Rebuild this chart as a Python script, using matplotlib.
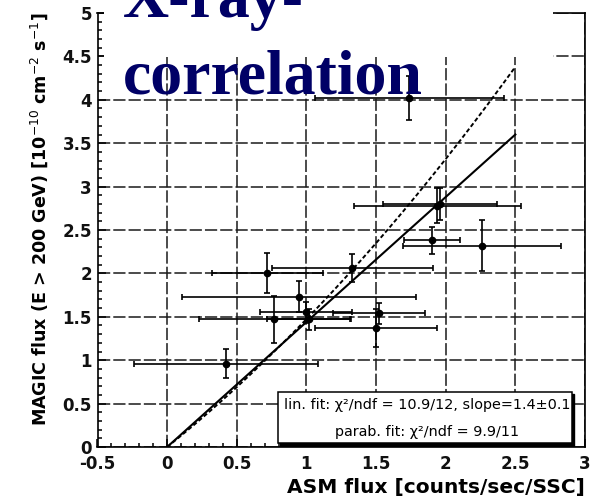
import matplotlib
matplotlib.use("Agg")
import matplotlib.pyplot as plt
import matplotlib.ticker as mticker
from matplotlib.patches import Rectangle
import numpy as np

### measured points: ASM flux vs MAGIC flux
asm = [0.42, 0.72, 0.77, 0.95, 1.00, 1.02, 1.33, 1.52, 1.50, 1.90, 1.94, 1.96, 2.26, 1.74]
magic = [0.96, 2.00, 1.47, 1.73, 1.55, 1.47, 2.06, 1.54, 1.37, 2.38, 2.78, 2.80, 2.32, 4.02]
asm_err = [0.66, 0.40, 0.54, 0.84, 0.33, 0.30, 0.58, 0.33, 0.44, 0.20, 0.60, 0.41, 0.57, 0.68]
magic_err = [0.17, 0.23, 0.27, 0.18, 0.12, 0.12, 0.16, 0.12, 0.22, 0.16, 0.20, 0.18, 0.29, 0.25]

### fit results
lin_slope = 1.44
parab_a, parab_b = 1.287, 0.186
fit_range = (0.0, 2.5)

lin_text = "lin. fit: χ²/ndf = 10.9/12, slope=1.4±0.1"
parab_text = "parab. fit: χ²/ndf = 9.9/11"

plt.rcParams['axes.unicode_minus'] = False
plt.rcParams['font.family'] = ['DejaVu Sans']

W, H = 598, 498
fig = plt.figure(figsize=(W / 100, H / 100), dpi=100)
ax = fig.add_axes([97.5 / W, 51 / H, 487.5 / W, 434 / H])

ax.set_xlim(-0.5, 3)
ax.set_ylim(0, 5)

# grid
ax.grid(True, which='major', color='#1a1a1a', linewidth=1.1, linestyle=(0, (8, 2)))
ax.set_axisbelow(True)

# fits
xf = np.linspace(fit_range[0], fit_range[1], 200)
ax.plot(xf, lin_slope * xf, color='black', lw=1.5, zorder=3)
ax.plot(xf, parab_a * xf + parab_b * xf ** 2, color='black', lw=1.4,
        linestyle=(0, (2.2, 1.3)), zorder=3)

# data
ax.errorbar(asm, magic, xerr=asm_err, yerr=magic_err, fmt='o', color='black',
            ms=4.5, lw=1.2, capsize=2.2, capthick=1.2, zorder=4)

# ticks
ax.xaxis.set_major_locator(mticker.MultipleLocator(0.5))
ax.xaxis.set_minor_locator(mticker.MultipleLocator(0.1))
ax.yaxis.set_major_locator(mticker.MultipleLocator(0.5))
ax.yaxis.set_minor_locator(mticker.MultipleLocator(0.1))
ax.xaxis.set_major_formatter(mticker.FormatStrFormatter('%g'))
ax.yaxis.set_major_formatter(mticker.FormatStrFormatter('%g'))
ax.tick_params(which='both', direction='in', top=False, right=False, width=1.1, color='black')
ax.tick_params(which='major', length=5.5)
ax.tick_params(which='minor', length=3)
ax.tick_params(axis='x', pad=6)
ax.tick_params(axis='y', pad=4)
for lbl in ax.get_xticklabels() + ax.get_yticklabels():
    lbl.set_fontsize(12)
    lbl.set_fontweight('bold')
    lbl.set_color('#111111')
for sp in ax.spines.values():
    sp.set_linewidth(1.2)

ax.set_xlabel("ASM flux [counts/sec/SSC]", fontsize=14.5, fontweight='bold',
              loc='right', labelpad=3)
ax.set_ylabel(r"MAGIC flux (E > 200 GeV) [10$^{-10}$ cm$^{-2}$ s$^{-1}$]",
              fontsize=12.6, fontweight='bold', loc='top', labelpad=9)

# fit result box with shadow
ax.add_patch(Rectangle((0.375, 0.003), 0.603, 0.118, transform=ax.transAxes,
                       facecolor='black', edgecolor='black', zorder=5))
ax.add_patch(Rectangle((0.370, 0.009), 0.603, 0.118, transform=ax.transAxes,
                       facecolor='white', edgecolor='black', lw=1.1, zorder=6))
ax.text(0.676, 0.097, lin_text, transform=ax.transAxes, ha='center', va='center',
        fontsize=10.4, zorder=7)
ax.text(0.676, 0.035, parab_text, transform=ax.transAxes, ha='center', va='center',
        fontsize=10.4, zorder=7)

# title over the plot
fig.add_artist(Rectangle((104 / W, (H - 57) / H), (553 - 104) / W, 57 / H,
                         transform=fig.transFigure, facecolor='white',
                         edgecolor='none', zorder=2.5))
fig.text(123 / W, (H - 17) / H, "X-ray-", fontsize=46, fontweight='bold',
         family='Liberation Serif', color='#000066', ha='left', va='baseline', zorder=3)
fig.text(123 / W, (H - 93) / H, "correlation", fontsize=46, fontweight='bold',
         family='Liberation Serif', color='#000066', ha='left', va='baseline', zorder=3)

plt.savefig('out.png', dpi=100)
